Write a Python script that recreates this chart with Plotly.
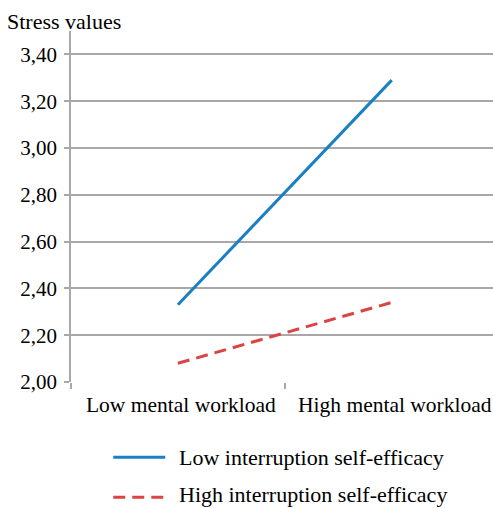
import plotly.graph_objects as go

categories = ["Low mental workload", "High mental workload"]
low_se = [2.33, 3.29]
high_se = [2.08, 2.34]
series_names = ["Low interruption self-efficacy", "High interruption self-efficacy"]
y_tick_vals = [2.0, 2.2, 2.4, 2.6, 2.8, 3.0, 3.2, 3.4]
y_tick_text = ["2,00", "2,20", "2,40", "2,60", "2,80", "3,00", "3,20", "3,40"]

BLUE = "#1b7fc3"
RED = "#dc4343"
GRID = "#a8a8a8"
FONT = "Liberation Serif"

W, H = 493, 508
ml, mt = 70.7, 30.6
bottom_px = 381.7
mb = H - bottom_px
mr = 0
pw = W - ml - mr
ph = H - mt - mb

def px(x):
    return (x - ml) / pw

def py(y):
    return (bottom_px - y) / ph

# x range so that category 0 sits at ~178px and category 1 at ~392px
x_right = -0.5 + (W - ml) / 214.0

fig = go.Figure()
fig.add_trace(go.Scatter(x=categories, y=low_se, mode="lines", name=series_names[0],
                         line=dict(color=BLUE, width=3)))
fig.add_trace(go.Scatter(x=categories, y=high_se, mode="lines", name=series_names[1],
                         line=dict(color=RED, width=3, dash="12px,7px")))

# manual legend
legend_rows = [(457, 457, BLUE, "solid"), (497, 494, RED, "12px,7px")]
for (yl, yt, col, dash), name in zip(legend_rows, series_names):
    fig.add_shape(type="line", xref="paper", yref="paper",
                  x0=px(113), x1=px(165), y0=py(yl), y1=py(yl),
                  line=dict(color=col, width=3, dash=dash))
    fig.add_annotation(xref="paper", yref="paper", x=px(178), y=py(yt),
                       xanchor="left", yanchor="middle", showarrow=False,
                       borderpad=0,
                       text=name, font=dict(family=FONT, size=22, color="black"))

fig.add_annotation(xref="paper", yref="paper", x=px(6), y=1, xanchor="left",
                   yanchor="bottom", yshift=-4, showarrow=False, borderpad=0,
                   text="Stress values",
                   font=dict(family=FONT, size=22, color="black"))

fig.update_layout(
    width=W, height=H,
    margin=dict(l=ml, r=mr, t=mt, b=mb, autoexpand=False),
    paper_bgcolor="white", plot_bgcolor="white",
    showlegend=False,
    font=dict(family=FONT, size=21, color="black"),
    xaxis=dict(type="category", range=[-0.5, x_right], showgrid=False,
               showline=False, ticks="outside", tickson="boundaries",
               ticklen=6, tickcolor=GRID, tickwidth=1.5,
               ticklabelstandoff=7, ticklabelshift=3,
               tickfont=dict(family=FONT, size=21.5, color="black"),
               zeroline=False, automargin=False),
    yaxis=dict(range=[2.0, 3.5], tickvals=y_tick_vals, ticktext=y_tick_text,
               showgrid=True, gridcolor=GRID, gridwidth=1.5,
               showline=True, linecolor=GRID, linewidth=1.5,
               ticks="outside", ticklen=5, tickcolor=GRID, tickwidth=1.5,
               ticklabelstandoff=3,
               tickfont=dict(family=FONT, size=21, color="black"),
               zeroline=False, automargin=False),
)

fig.write_html("out.html",
               config={"displayModeBar": False},
               post_script="document.body.style.margin='0';"
                           "document.body.style.overflow='hidden';")
